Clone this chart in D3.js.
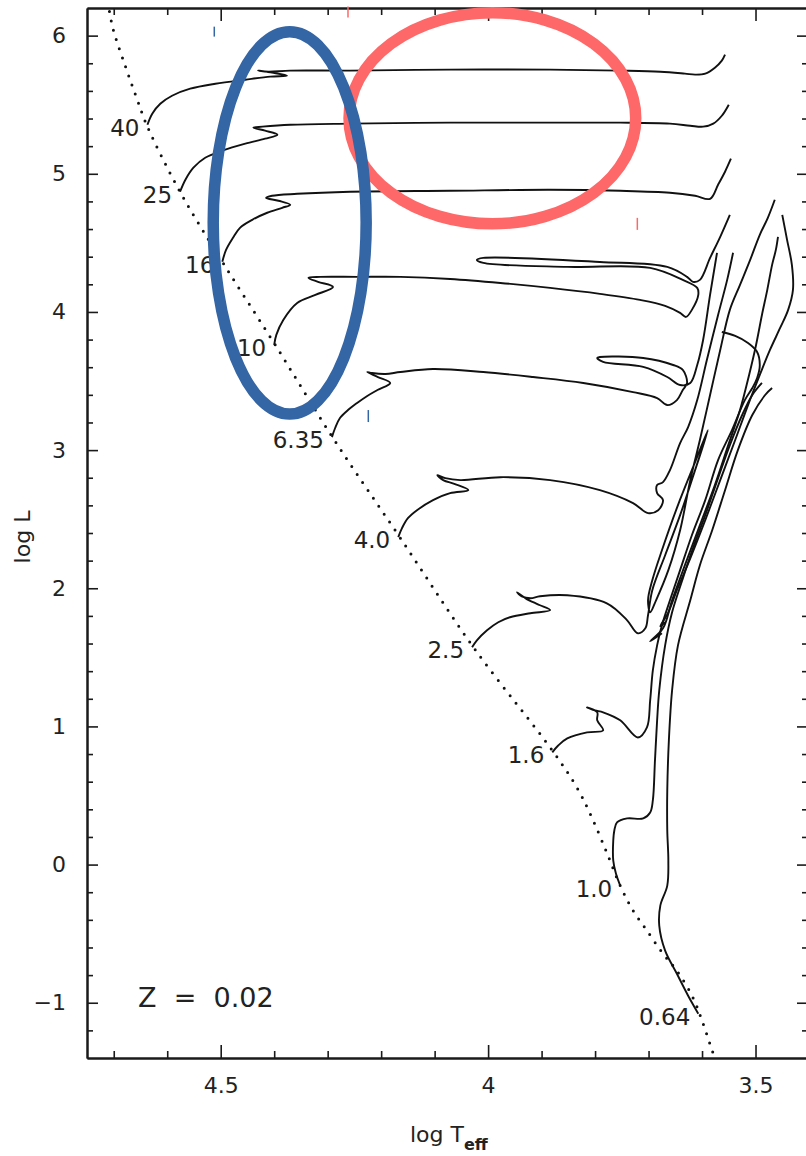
<!DOCTYPE html>
<html>
<head>
<meta charset="utf-8">
<script src="https://cdn.jsdelivr.net/npm/d3@7"></script>
<style>
body { margin: 0; background: #fff; }
svg { display: block; font-family: "DejaVu Sans", sans-serif; }
</style>
</head>
<body>
<svg id="chart" width="806" height="1156"></svg>
<script>
// Z = 0.02 evolutionary tracks, points as [log Teff, log L]
var massLabels = ['40', '25', '16', '10', '6.35', '4.0', '2.5', '1.6', '1.0', '0.64'];

var zams = [[4.708,6.174],[4.701,6.044],[4.678,5.776],[4.656,5.536],[4.637,5.341],[4.576,4.870],
  [4.497,4.363],[4.398,3.761],[4.290,3.087],[4.164,2.363],[4.026,1.565],[3.880,0.826],[3.834,0.558],
  [3.806,0.341],[3.776,0.066],[3.753,-0.152],[3.729,-0.333],[3.703,-0.478],[3.673,-0.645],
  [3.647,-0.768],[3.617,-0.963],[3.600,-1.130],[3.581,-1.347],[3.576,-1.40]];

var track40 = [[4.637,5.355],[4.628,5.435],[4.613,5.507],[4.591,5.565],[4.557,5.616],[4.510,5.652],
  [4.454,5.681],[4.407,5.703],[4.376,5.710],[4.404,5.732],[4.430,5.747],[4.411,5.739],[4.370,5.747],
  [4.258,5.747],[4.071,5.754],[3.884,5.754],[3.753,5.747],[3.678,5.739],[3.632,5.725],[3.613,5.718],
  [3.594,5.725],[3.576,5.768],[3.563,5.819],[3.557,5.862]];

var track25 = [[4.576,4.870],[4.566,4.957],[4.551,5.044],[4.529,5.116],[4.497,5.167],[4.454,5.218],
  [4.417,5.254],[4.394,5.283],[4.417,5.312],[4.439,5.334],[4.422,5.341],[4.370,5.355],[4.258,5.363],
  [4.071,5.370],[3.884,5.370],[3.753,5.370],[3.660,5.363],[3.622,5.348],[3.598,5.341],[3.579,5.363],
  [3.563,5.420],[3.550,5.500]];

var track16 = [[4.497,4.363],[4.490,4.449],[4.477,4.537],[4.464,4.609],[4.441,4.667],[4.413,4.718],
  [4.385,4.754],[4.370,4.776],[4.392,4.805],[4.415,4.826],[4.404,4.841],[4.357,4.855],[4.258,4.870],
  [4.071,4.877],[3.884,4.884],[3.753,4.877],[3.660,4.863],[3.613,4.841],[3.585,4.819],[3.570,4.921],
  [3.557,5.015],[3.546,5.109]];

var track10 = [[4.400,3.761],[4.396,3.834],[4.383,3.942],[4.357,4.065],[4.323,4.123],[4.290,4.181],
  [4.318,4.218],[4.336,4.247],[4.314,4.254],[4.245,4.254],[4.164,4.254],[4.071,4.239],[3.977,4.210],
  [3.884,4.174],[3.791,4.131],[3.716,4.087],[3.669,4.044],[3.641,3.993],[3.630,3.964],[3.619,4.015],
  [3.607,4.123],[3.609,4.174],[3.636,4.232],[3.697,4.319],[3.852,4.326],[4.009,4.355],[4.021,4.377],
  [4.009,4.391],[3.791,4.362],[3.665,4.326],[3.628,4.254],[3.617,4.218],[3.604,4.232],[3.585,4.391],
  [3.566,4.544],[3.548,4.703]];

var track635 = [[4.292,3.094],[4.286,3.160],[4.277,3.232],[4.262,3.290],[4.245,3.341],[4.226,3.392],
  [4.207,3.435],[4.183,3.486],[4.206,3.529],[4.226,3.565],[4.217,3.558],[4.192,3.551],[4.164,3.565],
  [4.103,3.587],[4.009,3.565],[3.916,3.529],[3.822,3.486],[3.729,3.420],[3.684,3.377],[3.665,3.326],
  [3.647,3.362],[3.636,3.435],[3.628,3.486],[3.636,3.580],[3.654,3.616],[3.710,3.667],[3.791,3.674],
  [3.796,3.667],[3.785,3.638],[3.710,3.602],[3.665,3.529],[3.641,3.471],[3.622,3.486],[3.609,3.616],
  [3.598,3.797],[3.585,4.123],[3.572,4.428]];

var track4 = [[4.168,2.370],[4.161,2.435],[4.150,2.507],[4.133,2.565],[4.103,2.638],[4.071,2.689],
  [4.037,2.710],[4.062,2.754],[4.084,2.783],[4.095,2.819],[4.080,2.797],[4.052,2.783],[3.977,2.804],
  [3.884,2.783],[3.791,2.710],[3.729,2.616],[3.701,2.544],[3.682,2.565],[3.673,2.638],[3.684,2.689],
  [3.684,2.747],[3.673,2.768],[3.660,2.855],[3.641,3.051],[3.626,3.167],[3.609,3.362],[3.591,3.652],
  [3.570,3.978],[3.553,4.232],[3.542,4.428]];

var track25b = [[4.030,1.573],[4.021,1.623],[4.002,1.696],[3.981,1.754],[3.959,1.790],[3.921,1.819],
  [3.884,1.841],[3.903,1.877],[3.916,1.899],[3.927,1.920],[3.946,1.971],[3.937,1.942],[3.921,1.928],
  [3.903,1.942],[3.852,1.949],[3.778,1.891],[3.740,1.768],[3.720,1.674],[3.706,1.710],[3.701,1.805],
  [3.693,1.986],[3.669,2.239],[3.641,2.529],[3.613,2.855],[3.589,3.145],[3.613,2.913],[3.645,2.602],
  [3.675,2.275],[3.693,2.058],[3.701,1.913],[3.697,1.826],[3.686,1.913],[3.663,2.131],[3.641,2.420],
  [3.622,2.783],[3.604,3.073],[3.585,3.399],[3.566,3.725],[3.548,4.015],[3.529,4.196],[3.510,4.377],
  [3.492,4.558],[3.477,4.681],[3.464,4.812]];

var track16b = [[3.880,0.812],[3.869,0.862],[3.852,0.913],[3.815,0.957],[3.785,0.971],[3.796,1.044],
  [3.796,1.102],[3.815,1.138],[3.800,1.116],[3.785,1.102],[3.753,1.044],[3.720,0.920],[3.703,0.993],
  [3.697,1.188],[3.692,1.406],[3.684,1.587],[3.675,1.732],[3.660,1.913],[3.641,2.131],[3.619,2.384],
  [3.594,2.638],[3.570,2.928],[3.544,3.145],[3.520,3.362],[3.506,3.449],[3.497,3.522],[3.492,3.616],
  [3.497,3.710],[3.514,3.775],[3.538,3.826],[3.563,3.855]];
var track16bAgb = [[3.675,1.674],[3.697,1.616],[3.673,1.710],[3.656,1.913],[3.632,2.167],[3.604,2.457],
  [3.576,2.747],[3.551,3.036],[3.529,3.290],[3.512,3.544],[3.499,3.761],[3.488,3.978],[3.478,4.160],
  [3.469,4.341],[3.462,4.449],[3.458,4.544]];

var track1 = [[3.753,-0.152],[3.761,-0.065],[3.766,0.029],[3.766,0.174],[3.764,0.247],[3.759,0.305],
  [3.740,0.334],[3.710,0.334],[3.697,0.377],[3.692,0.464],[3.688,0.754],[3.684,1.044],[3.680,1.261],
  [3.669,1.587],[3.656,1.826],[3.637,2.058],[3.617,2.290],[3.594,2.529],[3.570,2.797],[3.548,3.036],
  [3.525,3.254],[3.506,3.399],[3.488,3.486]];
var track1Agb = [[3.669,1.754],[3.678,1.725],[3.663,1.826],[3.647,1.986],[3.622,2.217],[3.594,2.493],
  [3.566,2.783],[3.538,3.073],[3.514,3.326],[3.492,3.544],[3.473,3.725],[3.454,3.884],[3.439,4.015],
  [3.430,4.160],[3.432,4.341],[3.441,4.522],[3.450,4.703]];

var track064 = [[3.607,-1.079],[3.626,-0.949],[3.647,-0.790],[3.669,-0.623],[3.680,-0.442],[3.678,-0.297],
  [3.665,-0.152],[3.663,0.029],[3.665,0.247],[3.665,0.536],[3.662,0.899],[3.656,1.261],[3.645,1.587],
  [3.622,1.913],[3.604,2.167],[3.581,2.420],[3.557,2.710],[3.533,3.000],[3.506,3.254],[3.482,3.399],
  [3.469,3.449]];

// annotation rings: centre log Teff, centre log L, half width, half height
var blueRing = [4.371, 4.645, 0.143, 1.384];
var redRing = [3.992, 5.402, 0.268, 0.764];
// stray marks: log Teff, log L top, log L bottom
var blueMarks = [[4.512, 6.065, 5.993], [4.224, 3.290, 3.203]];
var redMarks = [[4.262, 6.210, 6.131], [3.721, 4.681, 4.594]];

var xMajor = [4.5, 4, 3.5];
var xMinor = [4.7, 4.6, 4.4, 4.3, 4.2, 4.1, 3.9, 3.8, 3.7, 3.6];
var yMajor = [-1, 0, 1, 2, 3, 4, 5, 6];
var yMinor = [-1.2, -0.8, -0.6, -0.4, -0.2, 0.2, 0.4, 0.6, 0.8, 1.2, 1.4, 1.6, 1.8, 2.2, 2.4, 2.6, 2.8,
  3.2, 3.4, 3.6, 3.8, 4.2, 4.4, 4.6, 4.8, 5.2, 5.4, 5.6, 5.8];

var tracks = [
  [track40], [track25], [track16], [track10], [track635], [track4],
  [track25b], [track16b, track16bAgb], [track1, track1Agb], [track064]
];

var svg = d3.select('#chart');
var x = d3.scaleLinear().domain([4.75, 3.4]).range([87, 809]);
var y = d3.scaleLinear().domain([6.2, -1.4]).range([8, 1058]);

var line = d3.line()
  .x(function (d) { return x(d[0]); })
  .y(function (d) { return y(d[1]); })
  .curve(d3.curveCatmullRom.alpha(0.5));

var plot = svg.append('g');

plot.append('path')
  .datum(zams)
  .attr('d', line)
  .attr('fill', 'none')
  .attr('stroke', '#111')
  .attr('stroke-width', 3)
  .attr('stroke-linecap', 'round')
  .attr('stroke-dasharray', '0 9.6');

tracks.forEach(function (segs, i) {
  segs.forEach(function (seg) {
    plot.append('path')
      .datum(seg)
      .attr('d', line)
      .attr('fill', 'none')
      .attr('stroke', '#111')
      .attr('stroke-width', 1.9)
      .attr('stroke-linejoin', 'round');
  });
  var p = segs[0][0];
  plot.append('text')
    .attr('x', x(p[0]) - 8)
    .attr('y', y(p[1]) + 11)
    .attr('text-anchor', 'end')
    .attr('font-size', 23)
    .attr('fill', '#222')
    .text(massLabels[i]);
});

// axes, ticks pointing inwards
function styleAxis(g) {
  g.select('.domain').attr('stroke', '#1a1a1a').attr('stroke-width', 2);
  g.selectAll('.tick line').attr('stroke', '#1a1a1a').attr('stroke-width', 1.6);
  g.selectAll('.tick text').attr('fill', '#222').attr('font-size', 22)
    .attr('font-family', '"DejaVu Sans", sans-serif');
}

svg.append('g').attr('transform', 'translate(0,1058)')
  .call(d3.axisBottom(x).tickValues(xMajor).tickFormat(d3.format('')).tickSize(-13).tickSizeOuter(0).tickPadding(19))
  .call(styleAxis);
svg.append('g').attr('transform', 'translate(0,1058)')
  .call(d3.axisBottom(x).tickValues(xMinor).tickFormat('').tickSize(-7).tickSizeOuter(0))
  .call(styleAxis);
svg.append('g').attr('transform', 'translate(0,8)')
  .call(d3.axisTop(x).tickValues(xMajor).tickFormat('').tickSize(-13).tickSizeOuter(0))
  .call(styleAxis);
svg.append('g').attr('transform', 'translate(0,8)')
  .call(d3.axisTop(x).tickValues(xMinor).tickFormat('').tickSize(-7).tickSizeOuter(0))
  .call(styleAxis);

svg.append('g').attr('transform', 'translate(87,0)')
  .call(d3.axisLeft(y).tickValues(yMajor).tickFormat(d3.format('d')).tickSize(-11).tickSizeOuter(0).tickPadding(21))
  .call(styleAxis);
svg.append('g').attr('transform', 'translate(87,0)')
  .call(d3.axisLeft(y).tickValues(yMinor).tickFormat('').tickSize(-6).tickSizeOuter(0))
  .call(styleAxis);
svg.append('g').attr('transform', 'translate(809,0)')
  .call(d3.axisRight(y).tickValues(yMajor).tickFormat('').tickSize(-12).tickSizeOuter(0))
  .call(styleAxis);
svg.append('g').attr('transform', 'translate(809,0)')
  .call(d3.axisRight(y).tickValues(yMinor).tickFormat('').tickSize(-7).tickSizeOuter(0))
  .call(styleAxis);

// axis titles
svg.append('text')
  .attr('transform', 'translate(30,537) rotate(-90)')
  .attr('text-anchor', 'middle')
  .attr('font-size', 22)
  .attr('fill', '#222')
  .text('log L');

var xt = svg.append('text')
  .attr('x', 410)
  .attr('y', 1142)
  .attr('font-size', 22)
  .attr('fill', '#222');
xt.append('tspan').text('log T');
xt.append('tspan').attr('dy', 8).attr('font-size', 16).attr('font-weight', 'bold').text('eff');

svg.append('text')
  .attr('x', 138)
  .attr('y', 1007)
  .attr('font-size', 27)
  .attr('fill', '#222')
  .style('white-space', 'pre')
  .text('Z  =  0.02');

// highlight rings
function ring(r, colour) {
  svg.append('ellipse')
    .attr('cx', x(r[0]))
    .attr('cy', y(r[1]))
    .attr('rx', Math.abs(x(r[0] + r[2]) - x(r[0])))
    .attr('ry', Math.abs(y(r[1] + r[3]) - y(r[1])))
    .attr('fill', 'none')
    .attr('stroke', colour)
    .attr('stroke-width', 11.5);
}
ring(redRing, '#fe6868');
ring(blueRing, '#3465a4');

function marks(list, colour) {
  svg.selectAll(null).data(list).enter().append('line')
    .attr('x1', function (d) { return x(d[0]); })
    .attr('x2', function (d) { return x(d[0]); })
    .attr('y1', function (d) { return y(d[1]); })
    .attr('y2', function (d) { return y(d[2]); })
    .attr('stroke', colour)
    .attr('stroke-width', 1.5);
}
marks(blueMarks, '#3465a4');
marks(redMarks, '#fe6868');
</script>
</body>
</html>
